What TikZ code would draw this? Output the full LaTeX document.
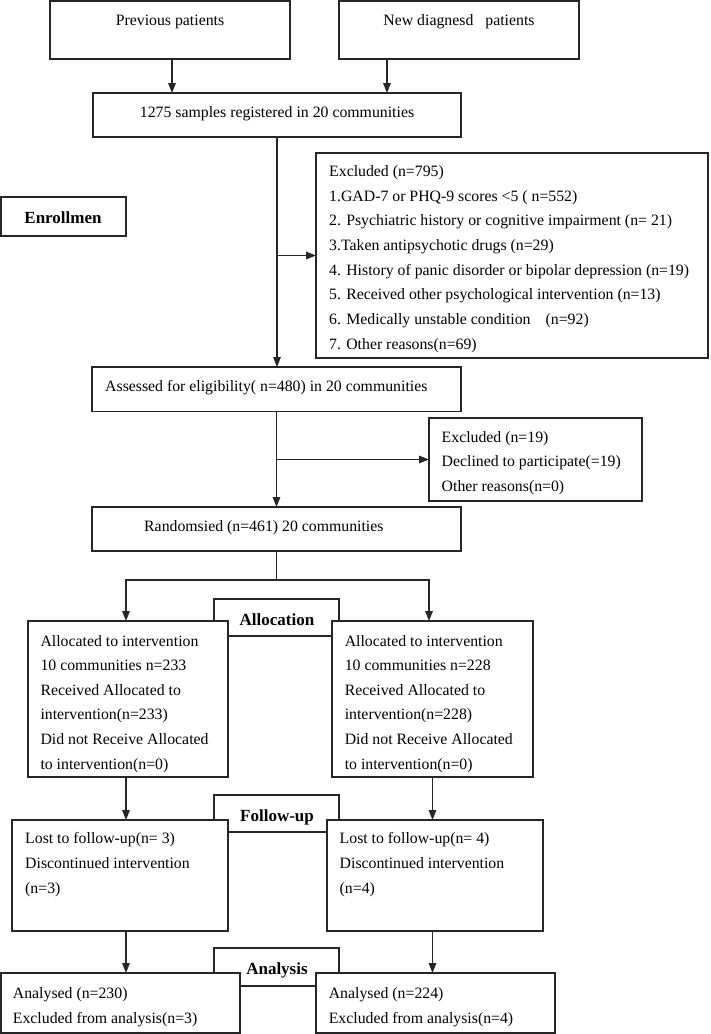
\documentclass[tikz,border=0pt]{standalone}
\usepackage{fontspec}
\setmainfont{Liberation Serif}
\usetikzlibrary{arrows.meta}
\begin{document}
\begin{tikzpicture}[x=1pt,y=1pt,
  box/.style={draw=black!85, line width=1.8pt, fill=white, inner sep=0pt, outer sep=0pt, anchor=north west},
  txt/.style={inner sep=0pt, anchor=base west, font=\fontsize{15.8}{18}\selectfont},
  ctxt/.style={txt, anchor=base},
  lab/.style={inner sep=0pt, anchor=base, font=\fontsize{17}{20}\selectfont\bfseries},
  conn/.style={draw=black!85, line width=1.6pt},
  tip/.tip={Triangle[length=10pt,width=7.5pt]},
  arr/.style={conn, -tip}]
\useasboundingbox (0,0) rectangle (710,-1034);

% stage label boxes (behind)
\node[box, minimum width=125pt, minimum height=37pt] (allocLab) at (214,-599) {};
\node[box, minimum width=125pt, minimum height=37pt] (fuLab) at (214,-795) {};
\node[box, minimum width=125pt, minimum height=38pt] (anLab) at (214,-948) {};
\node[box, minimum width=125pt, minimum height=39pt] (enroll) at (0.9,-197) {};

% main boxes
\node[box, minimum width=240pt, minimum height=58pt] (prev) at (50,-0.9) {};
\node[box, minimum width=240pt, minimum height=58pt] (new) at (339,-0.9) {};
\node[box, minimum width=368pt, minimum height=44pt] (reg) at (93,-93) {};
\node[box, minimum width=392pt, minimum height=205pt] (excl) at (316,-153) {};
\node[box, minimum width=369pt, minimum height=44.5pt] (ass) at (92,-367) {};
\node[box, minimum width=213pt, minimum height=83pt] (exb) at (429,-418) {};
\node[box, minimum width=369pt, minimum height=44pt] (rand) at (92,-507) {};
\node[box, minimum width=200pt, minimum height=156pt] (allocL) at (28,-621) {};
\node[box, minimum width=201pt, minimum height=156pt] (allocR) at (332,-621) {};
\node[box, minimum width=216pt, minimum height=111pt] (lostL) at (12,-820) {};
\node[box, minimum width=216pt, minimum height=111pt] (lostR) at (327,-820) {};
\node[box, minimum width=239pt, minimum height=60pt] (anL) at (0.9,-973) {};
\node[box, minimum width=239pt, minimum height=60pt] (anR) at (316,-973) {};

% stage labels
\node[lab] (tEnroll) at (63,-223) {Enrollmen};
\node[lab] (tAlloc) at (277,-625) {Allocation};
\node[lab] (tFu) at (277,-821) {Follow-up};
\node[lab] (tAn) at (277,-974) {Analysis};

% texts
\node[ctxt] (tPrev) at (170,-25) {Previous patients};
\node[ctxt] (tNew) at (459,-25) {New diagnesd\hspace{12pt}patients};
\node[ctxt] (tReg) at (277,-117) {1275 samples registered in 20 communities};

\node[txt] (e0) at (329,-176.5) {Excluded (n=795)};
\node[txt] (e1) at (329,-201.15) {1.GAD-7 or PHQ-9 scores <5 ( n=552)};
\node[txt] (e2) at (329,-225.8) {2. Psychiatric history or cognitive impairment (n= 21)};
\node[txt] (e3) at (329,-250.45) {3.Taken antipsychotic drugs (n=29)};
\node[txt] (e4) at (329,-275.1) {4. History of panic disorder or bipolar depression (n=19)};
\node[txt] (e5) at (329,-299.75) {5. Received other psychological intervention (n=13)};
\node[txt] (e6) at (329,-324.4) {6. Medically unstable condition\hspace{15pt}(n=92)};
\node[txt] (e7) at (329,-349.05) {7. Other reasons(n=69)};

\node[txt] (tAss) at (105,-391) {Assessed for eligibility( n=480) in 20 communities};

\node[txt] (x0) at (441.5,-442) {Excluded (n=19)};
\node[txt] (x1) at (441.5,-466.6) {Declined to participate(=19)};
\node[txt] (x2) at (441.5,-491.3) {Other reasons(n=0)};

\node[txt] (tRand) at (144,-531) {Randomsied (n=461) 20 communities};

\node[txt] (aL0) at (40.3,-646) {Allocated to intervention};
\node[txt] (aL1) at (40.3,-670.65) {10 communities n=233};
\node[txt] (aL2) at (40.3,-695.3) {Received Allocated to};
\node[txt] (aL3) at (40.3,-719.95) {intervention(n=233)};
\node[txt] (aL4) at (40.3,-744.6) {Did not Receive Allocated};
\node[txt] (aL5) at (40.3,-769.25) {to intervention(n=0)};

\node[txt] (aR0) at (344.6,-646) {Allocated to intervention};
\node[txt] (aR1) at (344.6,-670.65) {10 communities n=228};
\node[txt] (aR2) at (344.6,-695.3) {Received Allocated to};
\node[txt] (aR3) at (344.6,-719.95) {intervention(n=228)};
\node[txt] (aR4) at (344.6,-744.6) {Did not Receive Allocated};
\node[txt] (aR5) at (344.6,-769.25) {to intervention(n=0)};

\node[txt] (lL0) at (25,-843.8) {Lost to follow-up(n= 3)};
\node[txt] (lL1) at (25,-868.6) {Discontinued intervention};
\node[txt] (lL2) at (25,-893.4) {(n=3)};

\node[txt] (lR0) at (339.5,-843.8) {Lost to follow-up(n= 4)};
\node[txt] (lR1) at (339.5,-868.6) {Discontinued intervention};
\node[txt] (lR2) at (339.5,-893.4) {(n=4)};

\node[txt] (nL0) at (12.7,-998.2) {Analysed (n=230)};
\node[txt] (nL1) at (12.7,-1023) {Excluded from analysis(n=3)};
\node[txt] (nR0) at (328.6,-998.2) {Analysed (n=224)};
\node[txt] (nR1) at (328.6,-1023) {Excluded from analysis(n=4)};

% connector columns
\coordinate (cP) at (172,0);
\coordinate (cN) at (387,0);
\coordinate (cL) at (126,0);
\coordinate (cR) at (432.5,0);
\coordinate (sL) at (126,-580);
\coordinate (sR) at (429,-580);

\draw[arr] (prev.south -| cP) -- (reg.north -| cP);
\draw[arr] (new.south -| cN) -- (reg.north -| cN);
\draw[arr] (reg.south) -- (reg.south |- ass.north);
\draw[arr] (reg.south |- excl.west) -- (excl.west);
\draw[arr] (ass.south) -- (ass.south |- rand.north);
\draw[arr] (ass.south |- exb.west) -- (exb.west);
\draw[conn] (rand.south) -- (rand.south |- sL);
\draw[conn, tip-tip] (sL |- allocL.north) -- (sL) -- (sR) -- (sR |- allocR.north);
\draw[arr] (allocL.south -| cL) -- (lostL.north -| cL);
\draw[arr] (allocR.south -| cR) -- (lostR.north -| cR);
\draw[arr] (lostL.south -| cL) -- (anL.north -| cL);
\draw[arr] (lostR.south -| cR) -- (anR.north -| cR);
\end{tikzpicture}
\end{document}
